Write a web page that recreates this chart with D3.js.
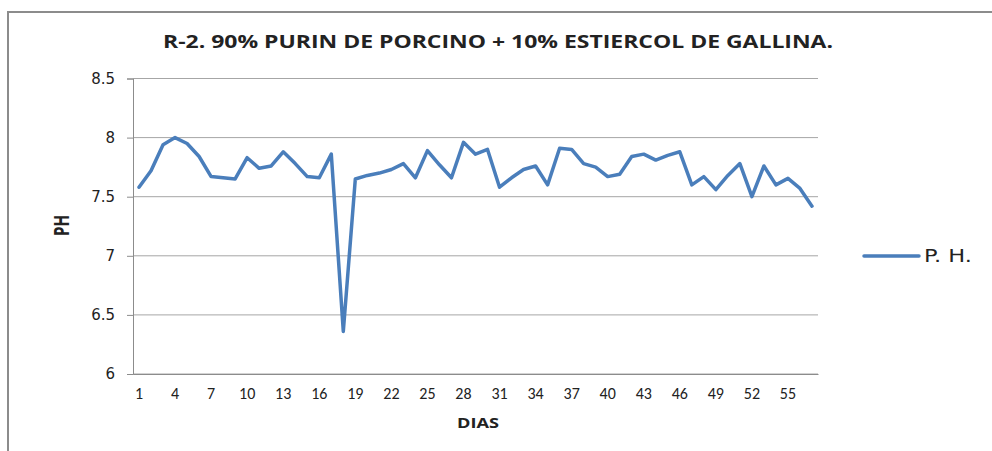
<!DOCTYPE html>
<html>
<head>
	<style>
		body { margin: 0; background: white; }
		svg text { fill: #222; }
	</style>
	<script src="https://d3js.org/d3.v7.min.js"></script>
</head>
<body>
	<svg id="chart" width="992" height="451"></svg>
<script>
// pH values per day, one entry per day 1..57
var dias = d3.range(1, 58);
var ph = [7.58, 7.72, 7.94, 8.00, 7.95, 7.84, 7.67, 7.66, 7.65, 7.83,
          7.74, 7.76, 7.88, 7.78, 7.67, 7.66, 7.86, 6.36, 7.65, 7.68,
          7.70, 7.73, 7.78, 7.66, 7.89, 7.77, 7.66, 7.96, 7.86, 7.90,
          7.58, 7.66, 7.73, 7.76, 7.60, 7.91, 7.90, 7.78, 7.75, 7.67,
          7.69, 7.84, 7.86, 7.81, 7.85, 7.88, 7.60, 7.67, 7.56, 7.68,
          7.78, 7.50, 7.76, 7.60, 7.655, 7.57, 7.42];
var yTicks = [6, 6.5, 7, 7.5, 8, 8.5];
var xTickLabels = d3.range(1, 58, 3);

var svg = d3.select("#chart");
var margin = {top: 78.5, left: 133, right: 174, bottom: 77};
var w = 992 - margin.left - margin.right;
var h = 451 - margin.top - margin.bottom;
var boldFont = "'Open Sans', sans-serif";

// outer chart frame
svg.append("rect")
	.attr("x", 8).attr("y", 12)
	.attr("width", 1000).attr("height", 500)
	.attr("fill", "none")
	.attr("stroke", "#8c8c8c")
	.attr("stroke-width", 2);

var x = d3.scaleBand().domain(dias).range([0, w]);
var y = d3.scaleLinear().domain([6, 8.5]).range([h, 0]);

var g = svg.append("g").attr("transform", "translate(" + margin.left + "," + margin.top + ")");

// gridlines
g.selectAll("line.grid").data(yTicks)
	.enter().append("line")
	.attr("class", "grid")
	.attr("x1", 0).attr("x2", w)
	.attr("y1", d => y(d)).attr("y2", d => y(d))
	.attr("stroke", "#a6a6a6").attr("stroke-width", 1);

// y axis
var yAxis = g.append("g")
	.call(d3.axisLeft(y).tickValues(yTicks).tickSize(6).tickPadding(12).tickFormat(d3.format("")));
yAxis.select(".domain").attr("stroke", "#8c8c8c");
yAxis.selectAll(".tick line").attr("stroke", "#8c8c8c");
yAxis.selectAll("text")
	.style("font-family", "'DejaVu Sans', Verdana, sans-serif")
	.style("font-size", "15px")
	.attr("fill", "#333");

// x axis (no ticks, labels every 3 days)
var xAxis = g.append("g")
	.attr("transform", "translate(0," + h + ")")
	.call(d3.axisBottom(x).tickValues(xTickLabels).tickSize(0).tickPadding(14));
xAxis.select(".domain").attr("stroke", "#8c8c8c");
xAxis.selectAll("text")
	.style("font-family", "Carlito, 'Liberation Sans Narrow', 'Open Sans', sans-serif")
	.style("font-size", "16px")
	.attr("fill", "#333");

// the line
var line = d3.line()
	.x((d, i) => x(dias[i]) + x.bandwidth() / 2)
	.y(d => y(d));

g.append("path")
	.datum(ph)
	.attr("d", line)
	.attr("fill", "none")
	.attr("stroke", "#4a7ebb")
	.attr("stroke-width", 3.5)
	.attr("stroke-linejoin", "round")
	.attr("stroke-linecap", "round");

// title
svg.append("text")
	.attr("x", 163).attr("y", 48)
	.attr("textLength", 670)
	.attr("lengthAdjust", "spacingAndGlyphs")
	.style("font-family", boldFont)
	.style("font-weight", "bold")
	.style("font-size", "18px")
	.text("R-2. 90% PURIN DE PORCINO + 10% ESTIERCOL DE GALLINA.");

// axis titles
svg.append("text")
	.attr("x", 457).attr("y", 428)
	.attr("textLength", 42)
	.attr("lengthAdjust", "spacingAndGlyphs")
	.style("font-family", boldFont)
	.style("font-weight", "bold")
	.style("font-size", "15px")
	.text("DIAS");

svg.append("text")
	.attr("transform", "translate(69,236) rotate(-90)")
	.attr("textLength", 21)
	.attr("lengthAdjust", "spacingAndGlyphs")
	.style("font-family", boldFont)
	.style("font-weight", "bold")
	.style("font-size", "22px")
	.text("PH");

// legend
var legend = svg.append("g").attr("transform", "translate(864,256)");
legend.append("line")
	.attr("x1", 0).attr("x2", 55)
	.attr("y1", 0).attr("y2", 0)
	.attr("stroke", "#4a7ebb")
	.attr("stroke-width", 3.5)
	.attr("stroke-linecap", "round");
legend.append("text")
	.attr("x", 60).attr("y", 6)
	.attr("textLength", 48)
	.attr("lengthAdjust", "spacingAndGlyphs")
	.style("font-family", "'DejaVu Sans', Verdana, sans-serif")
	.style("font-size", "17px")
	.text("P. H.");
</script>
</body>
</html>
